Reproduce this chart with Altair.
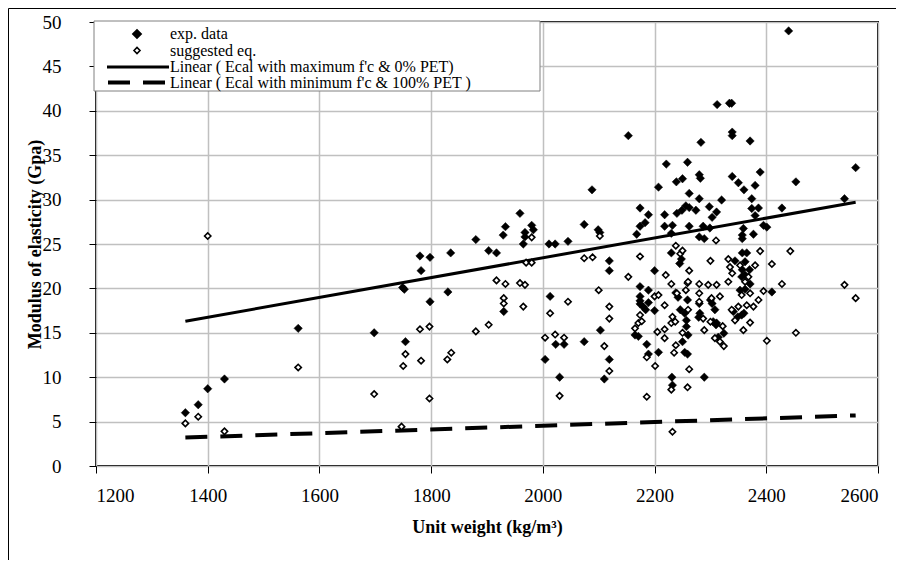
import altair as alt
import pandas as pd

# ---------------- data ----------------
exp_x = [1360, 1383, 1400, 1430, 1562, 1698, 1749, 1752, 1754, 1780, 1798, 1782, 1798, 1830,
         1835, 1880, 1903, 1917, 1933, 1929, 1930, 1959, 1965, 1968, 1968, 1980, 1983, 2011,
         2022, 2045, 2013, 2004, 2023, 2038, 2030, 2074, 2074, 2088, 2099, 2102, 2103, 2110,
         2119, 2119, 2119, 2153, 2165, 2168, 2171, 2174, 2174, 2174, 2174, 2174, 2174, 2180,
         2183, 2184, 2186, 2189, 2189, 2189, 2189, 2200, 2200, 2207, 2207, 2218, 2218, 2221,
         2230, 2230, 2231, 2232, 2232, 2238, 2239, 2240, 2242, 2245, 2246, 2248, 2249, 2250,
         2250, 2254, 2254, 2256, 2257, 2257, 2259, 2259, 2259, 2260, 2262, 2262, 2262, 2274,
         2280, 2282, 2280, 2280, 2280, 2281, 2279, 2283, 2287, 2289, 2289, 2298, 2299, 2300,
         2303, 2303, 2305, 2308, 2310, 2311, 2311, 2312, 2314, 2320, 2324, 2334, 2338, 2339,
         2339, 2339, 2341, 2344, 2349, 2350, 2353, 2356, 2356, 2357, 2357, 2357, 2357, 2359,
         2360, 2360, 2362, 2362, 2362, 2365, 2370, 2371, 2371, 2374, 2374, 2377, 2380, 2380,
         2386, 2389, 2395, 2401, 2410, 2428, 2440, 2453, 2540, 2560]
exp_y = [6.0, 6.9, 8.7, 9.8, 15.5, 15.0, 20.1, 19.9, 14.0, 23.65, 23.5, 22.0, 18.5, 19.6,
         24.0, 25.5, 24.25, 24.0, 26.95, 26.0, 17.4, 28.45, 25.0, 26.3, 25.8, 27.1, 26.6, 25.0,
         25.0, 25.3, 19.1, 12.0, 13.7, 13.7, 10.0, 27.2, 14.0, 31.1, 26.6, 26.3, 15.3, 9.8,
         23.1, 22.0, 12.0, 37.2, 14.75, 26.1, 14.6, 29.05, 27.0, 20.2, 19.1, 18.6, 18.25, 17.9,
         27.4, 17.6, 13.7, 28.3, 19.8, 18.4, 12.6, 22.0, 17.5, 31.4, 12.8, 28.3, 27.0, 34.0,
         24.0, 26.2, 10.0, 9.1, 27.1, 19.5, 32.0, 28.45, 19.0, 22.8, 17.6, 23.3, 28.8, 32.35,
         14.0, 17.2, 12.8, 29.3, 16.4, 15.7, 34.2, 18.7, 12.6, 14.75, 30.7, 29.1, 27.0, 28.8,
         32.8, 32.4, 30.1, 25.8, 18.3, 17.2, 16.75, 36.45, 27.0, 25.6, 10.0, 29.2, 26.8, 18.7,
         28.0, 18.3, 16.25, 17.6, 15.9, 28.6, 16.1, 40.7, 14.5, 29.95, 14.95, 40.85, 40.85, 37.6,
         37.2, 32.6, 17.4, 23.1, 16.8, 31.9, 19.8, 21.3, 17.0, 26.0, 25.6, 24.0, 22.1, 26.75,
         31.1, 17.2, 23.0, 21.5, 19.9, 24.0, 22.1, 36.6, 20.5, 30.1, 29.0, 26.1, 31.6, 28.2,
         29.05, 33.1, 27.1, 26.9, 19.6, 29.05, 49.0, 32.0, 30.1, 33.6]

sug_x = [1360, 1383, 1400, 1430, 1562, 1698, 1747, 1750, 1754, 1780, 1782, 1797, 1797, 1829,
         1836, 1880, 1903, 1917, 1933, 1930, 1930, 1959, 1965, 1968, 1970, 1980, 1980, 2004,
         2013, 2022, 2030, 2038, 2045, 2074, 2089, 2100, 2102, 2110, 2119, 2119, 2119, 2153,
         2165, 2171, 2174, 2174, 2177, 2186, 2186, 2200, 2201, 2205, 2207, 2218, 2218, 2218,
         2220, 2230, 2230, 2230, 2232, 2232, 2235, 2237, 2238, 2238, 2240, 2246, 2250, 2250,
         2256, 2259, 2259, 2260, 2260, 2262, 2262, 2280, 2280, 2280, 2287, 2289, 2296, 2300,
         2300, 2302, 2308, 2310, 2311, 2317, 2317, 2322, 2324, 2332, 2332, 2335, 2338, 2339,
         2344, 2350, 2353, 2356, 2359, 2362, 2365, 2368, 2371, 2371, 2377, 2380, 2386, 2389,
         2395, 2401, 2410, 2428, 2443, 2453, 2540, 2560]
sug_y = [4.8, 5.55, 25.9, 3.9, 11.1, 8.1, 4.43, 11.26, 12.6, 15.4, 11.86, 15.7, 7.6, 12.0,
         12.76, 15.16, 15.9, 20.9, 20.5, 18.9, 18.3, 20.6, 17.95, 20.4, 22.9, 22.9, 25.75, 14.45,
         17.2, 14.8, 7.9, 14.45, 18.5, 23.4, 23.5, 19.8, 25.9, 13.5, 17.95, 16.6, 10.7, 21.3,
         15.5, 16.1, 23.6, 17.0, 16.3, 12.24, 7.8, 19.1, 11.26, 15.1, 19.25, 18.1, 15.4, 14.4,
         21.5, 20.5, 16.1, 8.6, 3.86, 16.8, 12.76, 16.25, 24.8, 13.6, 19.45, 23.9, 24.25, 15.0,
         19.8, 20.6, 8.86, 20.75, 17.6, 22.0, 10.9, 20.5, 19.45, 18.5, 16.6, 15.3, 20.4, 23.1,
         16.25, 18.9, 14.4, 25.4, 20.4, 19.1, 14.0, 15.75, 13.5, 23.3, 20.75, 22.4, 17.6, 21.7,
         16.4, 17.95, 22.6, 19.25, 15.3, 20.75, 18.1, 21.3, 19.45, 16.15, 17.95, 22.6, 18.7, 24.2,
         19.7, 14.1, 22.75, 20.5, 24.2, 15.0, 20.4, 18.9]

trend_x = [1360, 2560]
trend_max_y = [16.3, 29.7]
trend_min_y = [3.2, 5.7]

legend_labels = ["exp. data", "suggested eq.",
                 "Linear ( Ecal with maximum f'c & 0% PET)",
                 "Linear ( Ecal with minimum f'c & 100% PET )"]

x_ticks = [1200, 1400, 1600, 1800, 2000, 2200, 2400, 2600]
y_ticks = [0, 5, 10, 15, 20, 25, 30, 35, 40, 45, 50]

# ---------------- chart ----------------
FONT = "Liberation Serif"
W, H = 782, 444

exp_df = pd.DataFrame({"x": exp_x, "y": exp_y})
sug_df = pd.DataFrame({"x": sug_x, "y": sug_y})
max_df = pd.DataFrame({"x": trend_x, "y": trend_max_y})
min_df = pd.DataFrame({"x": trend_x, "y": trend_min_y})

xs = alt.Scale(domain=[1200, 2600], nice=False, zero=False)
ys = alt.Scale(domain=[0, 50], nice=False, zero=True)

x_axis = alt.Axis(values=x_ticks, format="d", title="Unit weight (kg/m³)",
                  labelPadding=13, titleX=W / 2, titleY=61, titleBaseline="middle",
                  titleAlign="center")
y_axis = alt.Axis(values=y_ticks, format="d", title="Modulus of elasticity (Gpa)",
                  labelPadding=28, titleX=-61, titleY=H / 2, titleAngle=270,
                  titleBaseline="middle", titleAlign="center")

X = alt.X("x:Q", scale=xs, axis=x_axis)
Y = alt.Y("y:Q", scale=ys, axis=y_axis)

max_line = alt.Chart(max_df).mark_line(color="black", strokeWidth=3).encode(x=X, y=Y)
min_line = alt.Chart(min_df).mark_line(color="black", strokeWidth=4,
                                       strokeDash=[22, 13]).encode(x=X, y=Y)
exp_pts = alt.Chart(exp_df).mark_point(shape="diamond", filled=True, fill="black",
                                       stroke="black", strokeWidth=0.5, size=70,
                                       opacity=1).encode(x=X, y=Y)
sug_pts = alt.Chart(sug_df).mark_point(shape="diamond", filled=False, fill="white",
                                       stroke="black", strokeWidth=1.6, size=40,
                                       opacity=1, fillOpacity=1).encode(x=X, y=Y)

one = pd.DataFrame({"k": [0]})

legend_box = alt.Chart(one).mark_rect(fill="white", stroke="#808080", strokeWidth=1).encode(
    x=alt.value(-2), x2=alt.value(444), y=alt.value(-1), y2=alt.value(69))
leg_exp = alt.Chart(one).mark_point(shape="diamond", filled=True, fill="black",
                                    stroke="black", size=60, opacity=1).encode(
    x=alt.value(41), y=alt.value(12))
leg_sug = alt.Chart(one).mark_point(shape="diamond", filled=False, fill="white",
                                    stroke="black", strokeWidth=1.6, size=36, opacity=1).encode(
    x=alt.value(41), y=alt.value(28.5))
leg_max = alt.Chart(one).mark_rule(color="black", strokeWidth=3).encode(
    x=alt.value(11), x2=alt.value(73), y=alt.value(45))
leg_min = alt.Chart(one).mark_rule(color="black", strokeWidth=4, strokeDash=[22, 13]).encode(
    x=alt.value(12), x2=alt.value(72), y=alt.value(60.5))

leg_rows = [12, 28.5, 45, 61]
leg_texts = [
    alt.Chart(one).mark_text(text=lab, font=FONT, fontSize=16, align="left",
                             baseline="middle", color="black").encode(
        x=alt.value(74), y=alt.value(ry))
    for lab, ry in zip(legend_labels, leg_rows)
]

frame_left = alt.Chart(one).mark_rule(color="black", strokeWidth=1).encode(
    x=alt.value(-87.5), y=alt.value(-13.5), y2=alt.value(H + 94))
frame_top = alt.Chart(one).mark_rule(color="black", strokeWidth=1).encode(
    x=alt.value(-87.5), x2=alt.value(W + 18), y=alt.value(-13.5))

chart = alt.layer(
    max_line, min_line, exp_pts, sug_pts,
    legend_box, leg_exp, leg_sug, leg_max, leg_min, *leg_texts,
    frame_left, frame_top,
).properties(
    width=W, height=H,
    autosize=alt.AutoSizeParams(type="none"),
    padding={"left": 88, "top": 14, "right": 18, "bottom": 94},
    background="white",
).configure_view(
    stroke="black", strokeWidth=2
).configure_axis(
    grid=True, gridColor="#c0c0c0", gridWidth=1.5, domain=False,
    ticks=True, tickColor="black", tickSize=7, tickWidth=1,
    labelFont=FONT, labelFontSize=19, labelColor="black",
    titleFont=FONT, titleFontSize=18, titleFontWeight="bold", titleColor="black",
)

chart.save("out.html", embed_options={"renderer": "svg", "actions": False})
